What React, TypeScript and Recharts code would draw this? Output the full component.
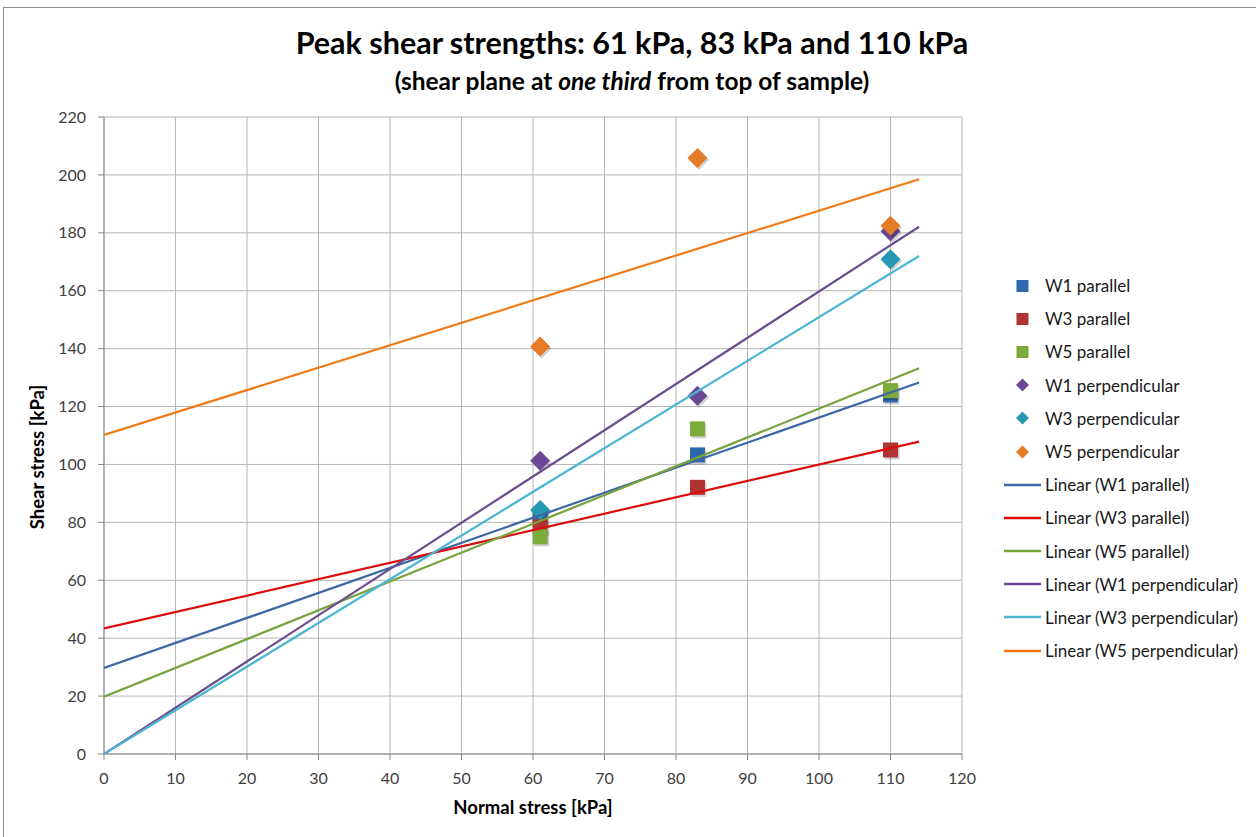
import React from 'react';
import {
  ScatterChart,
  Scatter,
  XAxis,
  YAxis,
  CartesianGrid,
  Label,
} from 'recharts';

// --- axis ticks ---
const xTicks = [0, 10, 20, 30, 40, 50, 60, 70, 80, 90, 100, 110, 120];
const yTicks = [0, 20, 40, 60, 80, 100, 120, 140, 160, 180, 200, 220];

// --- measured peak shear stress (kPa) at each normal stress ---
const normalStress = [61, 83, 110];
const w1Parallel = [81.5, 103.3, 124];
const w3Parallel = [78.5, 92.1, 105];
const w5Parallel = [75, 112.3, 125.5];
const w1Perpendicular = [101.3, 123.7, 180.5];
const w3Perpendicular = [84.3, null, 170.9]; // no test at 83 kPa
const w5Perpendicular = [140.7, 205.8, 182.4];

// --- linear trendlines (end points) ---
const trendX = [0, 114];
const w1ParallelFit = [29.7, 128.3];
const w3ParallelFit = [43.4, 107.9];
const w5ParallelFit = [19.8, 133.2];
const w1PerpendicularFit = [0, 182.1];
const w3PerpendicularFit = [0, 172];
const w5PerpendicularFit = [110.2, 198.5];

const FONT = 'Lato, "Open Sans", sans-serif';

const toPoints = (xs: number[], ys: (number | null)[]) =>
  xs.map((x, i) => ({ x, y: ys[i] })).filter((p) => p.y != null);

const markerSeries = [
  { name: 'W1 parallel', values: w1Parallel, color: '#2f67ad', shape: 'square' },
  { name: 'W3 parallel', values: w3Parallel, color: '#b23333', shape: 'square' },
  { name: 'W5 parallel', values: w5Parallel, color: '#7caa3b', shape: 'square' },
  { name: 'W1 perpendicular', values: w1Perpendicular, color: '#6a4896', shape: 'diamond' },
  { name: 'W3 perpendicular', values: w3Perpendicular, color: '#2798b4', shape: 'diamond' },
  { name: 'W5 perpendicular', values: w5Perpendicular, color: '#e37b27', shape: 'diamond' },
];

const trendSeries = [
  { name: 'Linear (W1 parallel)', values: w1ParallelFit, color: '#3c68a4' },
  { name: 'Linear (W3 parallel)', values: w3ParallelFit, color: '#dc0c0c' },
  { name: 'Linear (W5 parallel)', values: w5ParallelFit, color: '#77a23c' },
  { name: 'Linear (W1 perpendicular)', values: w1PerpendicularFit, color: '#6b4e8e' },
  { name: 'Linear (W3 perpendicular)', values: w3PerpendicularFit, color: '#4cb6d1' },
  { name: 'Linear (W5 perpendicular)', values: w5PerpendicularFit, color: '#f07a15' },
];

const makeShape = (kind: string, color: string) => (props: any) => {
  const { cx, cy } = props;
  if (cx == null || cy == null) return <g />;
  if (kind === 'square') {
    const s = 15;
    return (
      <g>
        <rect x={cx - s / 2 + 1.5} y={cy - s / 2 + 2} width={s} height={s} fill="rgba(0,0,0,0.18)" />
        <rect x={cx - s / 2} y={cy - s / 2} width={s} height={s} fill={color} />
      </g>
    );
  }
  const r = 10;
  const d = (ox: number, oy: number) =>
    `M${cx + ox},${cy - r + oy} L${cx + r + ox},${cy + oy} L${cx + ox},${cy + r + oy} L${cx - r + ox},${cy + oy} Z`;
  return (
    <g>
      <path d={d(1.5, 2)} fill="rgba(0,0,0,0.18)" />
      <path d={d(0, 0)} fill={color} />
    </g>
  );
};

const noShape = () => <g />;

const LegendBox = () => (
  <div style={{ position: 'absolute', left: 1000, top: 269, fontFamily: FONT, fontSize: 17, color: '#1a1a1a' }}>
    {markerSeries.map((s) => (
      <div key={s.name} style={{ height: 33.2, display: 'flex', alignItems: 'center' }}>
        <svg width={45} height={20}>
          {s.shape === 'square' ? (
            <rect x={16.5} y={4} width={12} height={12} fill={s.color} />
          ) : (
            <path d="M22.5,3.5 L29,10 L22.5,16.5 L16,10 Z" fill={s.color} />
          )}
        </svg>
        <span>{s.name}</span>
      </div>
    ))}
    {trendSeries.map((s) => (
      <div key={s.name} style={{ height: 33.2, display: 'flex', alignItems: 'center' }}>
        <svg width={45} height={20}>
          <line x1={4} x2={41} y1={10} y2={10} stroke={s.color} strokeWidth={2.5} />
        </svg>
        <span>{s.name}</span>
      </div>
    ))}
  </div>
);

export default function App() {
  return (
    <div style={{ position: 'absolute', left: 0, top: 0, width: 1256, height: 837, background: '#fff', overflow: 'hidden' }}>
      <div style={{ position: 'absolute', left: 3, top: 7, width: 1300, height: 900, border: '1px solid #8c8c8c' }} />
      <div style={{ position: 'absolute', left: 0, top: 24, width: 1264, textAlign: 'center', fontFamily: FONT, fontWeight: 700, fontSize: 30.5, lineHeight: 1.2, color: '#000' }}>
        Peak shear strengths: 61 kPa, 83 kPa and 110 kPa
      </div>
      <div style={{ position: 'absolute', left: 0, top: 66, width: 1264, textAlign: 'center', fontFamily: FONT, fontWeight: 700, fontSize: 24.5, lineHeight: 1.2, color: '#000' }}>
        (shear plane at <i>one third</i> from top of sample)
      </div>
      <div style={{ position: 'absolute', left: 0, top: 0 }}>
        <ScatterChart width={1256} height={837} margin={{ top: 117, right: 294, bottom: 53, left: 44 }}>
          <CartesianGrid stroke="#b5b5b5" strokeWidth={1} />
          <XAxis
            type="number"
            dataKey="x"
            domain={[0, 120]}
            ticks={xTicks}
            interval={0}
            height={30}
            allowDataOverflow
            axisLine={{ stroke: '#868686' }}
            tickLine={{ stroke: '#868686' }}
            tickSize={6}
            tickMargin={13}
            tick={{ fill: '#404040', fontSize: 16, fontFamily: FONT }}
          >
            <Label
              content={() => (
                <text x={533} y={814} textAnchor="middle" fontFamily={FONT} fontWeight={700} fontSize={18.5} fill="#000">
                  Normal stress [kPa]
                </text>
              )}
            />
          </XAxis>
          <YAxis
            type="number"
            dataKey="y"
            domain={[0, 220]}
            ticks={yTicks}
            interval={0}
            width={60}
            allowDataOverflow
            axisLine={{ stroke: '#868686' }}
            tickLine={{ stroke: '#868686' }}
            tickSize={6}
            tickMargin={12}
            tick={{ fill: '#404040', fontSize: 16, fontFamily: FONT }}
          >
            <Label
              content={() => (
                <text x={44} y={457} transform="rotate(-90 44 457)" textAnchor="middle" fontFamily={FONT} fontWeight={700} fontSize={18.5} fill="#000">
                  Shear stress [kPa]
                </text>
              )}
            />
          </YAxis>
          {markerSeries.map((s) => (
            <Scatter
              key={s.name}
              name={s.name}
              data={toPoints(normalStress, s.values)}
              shape={makeShape(s.shape, s.color)}
              isAnimationActive={false}
            />
          ))}
          {trendSeries.map((s) => (
            <Scatter
              key={s.name}
              name={s.name}
              data={toPoints(trendX, s.values)}
              line={{ stroke: s.color, strokeWidth: 2.2 }}
              shape={noShape}
              isAnimationActive={false}
            />
          ))}
        </ScatterChart>
      </div>
      <LegendBox />
    </div>
  );
}
